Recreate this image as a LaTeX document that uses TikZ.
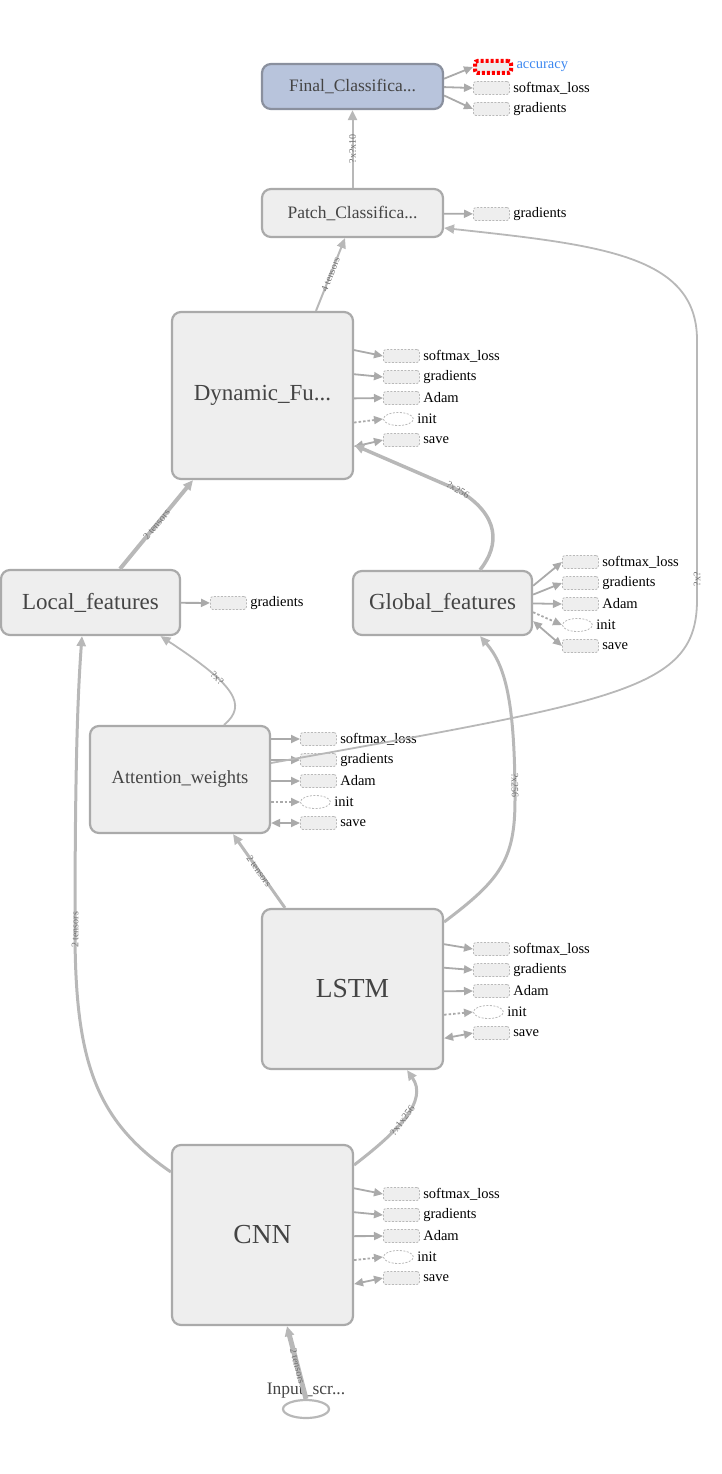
\documentclass[tikz,border=0pt]{standalone}
\usepackage{fontspec}
\setmainfont{Liberation Serif}
\usepackage{tikz}
\usetikzlibrary{calc,arrows.meta,positioning,shapes.geometric}
\definecolor{opfill}{HTML}{EEEEEE}
\definecolor{opline}{HTML}{AAAAAA}
\definecolor{hifill}{HTML}{B8C4DC}
\definecolor{hiline}{HTML}{8A909E}
\definecolor{edgegray}{HTML}{B8B8B8}
\definecolor{optext}{HTML}{444444}
\definecolor{accblue}{HTML}{3C87F0}
\tikzset{
  op/.style={rectangle,rounded corners=9pt,draw=opline,fill=opfill,line width=2.2pt,text=optext,inner sep=0pt},
  hi/.style={op,draw=hiline,fill=hifill},
  auxbox/.style={rectangle,rounded corners=2.5pt,draw=gray!55,line width=0.8pt,dash pattern=on 2pt off 1.5pt,fill=opfill,minimum width=36pt,minimum height=13pt,inner sep=0pt,anchor=west},
  auxoval/.style={ellipse,draw=gray!55,line width=0.8pt,dash pattern=on 2pt off 1.5pt,minimum width=30pt,minimum height=13pt,inner sep=0pt,anchor=west},
  flow/.style={draw=edgegray,-{Triangle[length=10pt,width=9pt]}},
  side/.style={draw=opline,line width=1.8pt,-{Triangle[length=9pt,width=8pt]}},
  sidedot/.style={side,dash pattern=on 2.5pt off 2pt},
  sideboth/.style={side,{Triangle[length=9pt,width=8pt]}-{Triangle[length=9pt,width=8pt]}},
  elabel/.style={font=\fontsize{10}{11}\selectfont,text=black!55,sloped,inner sep=0.5pt},
  every label/.style={font=\fontsize{14.5}{16}\selectfont,text=black}
}
% column of auxiliary nodes: main node, x, first y, fan factor
\newcommand\auxcol[4]{%
  \foreach \n/\t/\s/\e [count=\k from 0] in {sl/softmax\_loss/auxbox/side,gr/gradients/auxbox/side,ad/Adam/auxbox/side,in/init/auxoval/sidedot,sv/save/auxbox/sideboth}{
    \node[\s,label=right:\t] (#1-\n) at (#2,{#3+1+21*\k}) {};
    \draw[\e] ($(#1.east)!#4!(#1.east |- #1-\n.west)$) -- (#1-\n.west);
  }%
}

\begin{document}
\begin{tikzpicture}[x=1pt,y=-1pt]
\useasboundingbox (0,0) rectangle (722,1474);

% main nodes
\node[hi,minimum width=181pt,minimum height=45pt,font=\fontsize{17.5}{20}\selectfont] (final) at (352.5,86.5) {Final\_Classifica...};
\node[op,minimum width=181pt,minimum height=48pt,font=\fontsize{17.5}{20}\selectfont] (patch) at (352.5,213) {Patch\_Classifica...};
\node[op,minimum width=181pt,minimum height=167pt,font=\fontsize{23}{26}\selectfont] (dyn) at (262.5,395.5) {Dynamic\_Fu...};
\node[op,minimum width=179pt,minimum height=65pt,font=\fontsize{23}{26}\selectfont] (local) at (90.5,602.5) {Local\_features};
\node[op,minimum width=179pt,minimum height=64pt,font=\fontsize{23}{26}\selectfont] (glob) at (442.5,603) {Global\_features};
\node[op,minimum width=180pt,minimum height=107pt,font=\fontsize{18.5}{21}\selectfont] (attn) at (180,779.5) {Attention\_weights};
\node[op,minimum width=181pt,minimum height=160pt,font=\fontsize{27.5}{31}\selectfont] (lstm) at (352.5,989) {LSTM};
\node[op,minimum width=181pt,minimum height=180pt,font=\fontsize{27.5}{31}\selectfont] (cnn) at (262.5,1235) {CNN};
\node[ellipse,draw=edgegray,line width=2.2pt,minimum width=46pt,minimum height=18pt,inner sep=0pt,
  label={[font=\fontsize{17.5}{20}\selectfont,text=optext,yshift=-3pt]above:Input\_scr...}] (input) at (306,1409) {};

% auxiliary nodes
\node[auxbox,draw=red,line width=4pt,dash pattern=on 3pt off 2pt,minimum height=12pt,label={[text=accblue]right:accuracy}] (final-acc) at (473,67) {};
\node[auxbox,label=right:softmax\_loss] (final-sl) at (473,88) {};
\node[auxbox,label=right:gradients] (final-gr) at (473,109) {};
\foreach \a in {acc,sl,gr}
  \draw[side] ($(final.east)!0.4!(final.east |- final-\a.west)$) -- (final-\a.west);
\node[auxbox,label=right:gradients] (patch-gr) at (473,214) {};
\draw[side] (patch) -- (patch-gr);
\node[auxbox,label=right:gradients] (local-gr) at (210,603) {};
\draw[side] (local) -- (local-gr);
\auxcol{dyn}{383}{355}{1.15}
\auxcol{glob}{562}{561}{0.42}
\auxcol{attn}{300}{738}{1}
\auxcol{lstm}{473}{948}{1.12}
\auxcol{cnn}{383}{1193}{1.14}

% data flow
\draw[flow,line width=2pt] (patch) -- node[elabel]{?x?x10} (final);
\draw[flow,line width=2pt] ([xshift=53.5pt]dyn.north) -- node[elabel]{4 tensors} ([xshift=-7.5pt]patch.south);
\draw[flow,line width=4pt] ([xshift=29.5pt]local.north) -- node[elabel]{2 tensors} ([xshift=-69.5pt]dyn.south);
\draw[flow,line width=3.5pt] ([xshift=37.5pt]glob.north) .. controls (500,545) and (500,515) .. node[elabel,pos=1]{?x256} (458,490) -- ([yshift=-49.5pt]dyn.east);
\draw[flow,line width=1.8pt] ([yshift=16.5pt]attn.east) .. controls (620,700) and (697,690) .. (697,600) -- node[elabel,pos=0.08]{?x?} (697,340) .. controls (697,255) and (600,245) .. ([yshift=-15pt]patch.east);
\draw[flow,line width=1.8pt] ([xshift=44pt]attn.north) .. controls (248,705) and (235,685) .. node[elabel,pos=0.65]{?x?} ([xshift=70pt]local.south);
\draw[flow,line width=3pt] ([xshift=-67.5pt]lstm.north) -- node[elabel]{2 tensors} ([xshift=53pt]attn.south);
\draw[flow,line width=3pt] ([yshift=67pt]lstm.east) .. controls (500,880) and (515,860) .. (515,800) .. controls (515,700) and (505,665) .. node[elabel,pos=0.05]{?x256} ([xshift=37.5pt]glob.south);
\draw[flow,line width=3pt] ([yshift=63pt]cnn.west) .. controls (95,1120) and (75,1060) .. node[elabel,pos=1]{2 tensors} (75,930) .. controls (75,760) and (78,690) .. ([xshift=-8.5pt]local.south);
\draw[flow,line width=3pt] ([yshift=70pt]cnn.east) .. controls (400,1130) and (428,1100) .. node[elabel,pos=0.45]{?x1x256} ([xshift=54.5pt]lstm.south);
\draw[flow,line width=5pt] (input.north) -- node[elabel,pos=0.45]{2 tensors} ([xshift=24.5pt]cnn.south);
\end{tikzpicture}
\end{document}
